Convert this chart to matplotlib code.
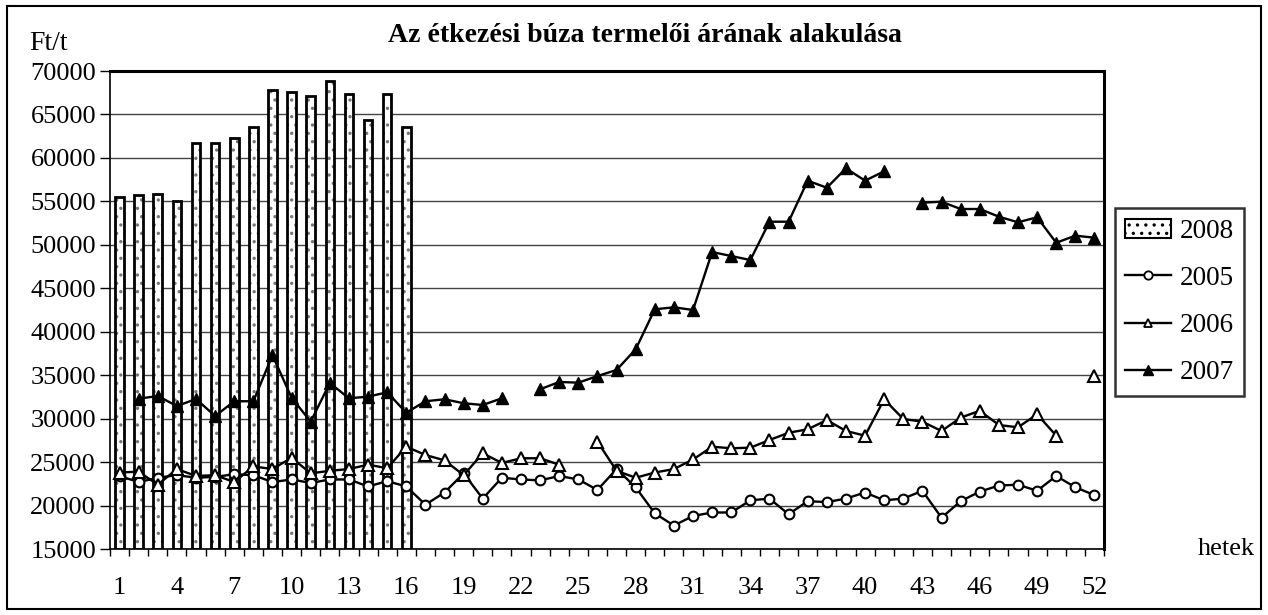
import numpy as np
import matplotlib.pyplot as plt
from matplotlib.patches import Rectangle, Patch
from matplotlib.lines import Line2D

plt.rcParams['font.family'] = ['Liberation Serif', 'DejaVu Serif']
plt.rcParams['hatch.linewidth'] = 1.2

# Adatok (hetek 1-52), nan = hiányzó adat
weeks = np.arange(1, 53)

y2008 = [55500, 55700, 55900, 55000, 61700, 61700, 62300, 63600, 67800, 67600,
         67100, 68900, 67300, 64400, 67300, 63600]

y2005 = [23400, 22700, 23200, 23500, 23200, 23300, 23600, 23500, 22700, 23000,
         22600, 23000, 23000, 22200, 22800, 22200, 20100, 21500, 23700, 20800,
         23200, 23000, 22900, 23400, 23000, 21800, 24200, 22100, 19100, 17700,
         18800, 19200, 19200, 20600, 20800, 19000, 20500, 20400, 20800, 21500,
         20600, 20800, 21700, 18600, 20500, 21600, 22300, 22400, 21700, 23400,
         22100, 21200]

y2006 = [23800, 23900, 22400, 24200, 23400, 23500, 22700, 24500, 24200, 25500,
         23700, 24000, 24200, 24700, 24300, 26770, 25820, 25200, 23500, 26010,
         24900, 25440, 25440, 24700, np.nan, 27350, 24000, 23200, 23800, 24200,
         25300, 26770, 26590, 26660, 27540, 28380, 28770, 29840, 28580, 28040,
         32220, 29960, 29650, 28580, 30110, 30910, 29270, 29000, 30500, 28040,
         np.nan, 34940]

y2007 = [np.nan, 32300, 32600, 31450, 32260, 30300, 32000, 32000, 37300, 32400,
         29650, 34100, 32340, 32530, 33030, 30680, 32000, 32230, 31770, 31570,
         32340, np.nan, 33380, 34220, 34140, 34900, 35600, 37980, 42580, 42810,
         42500, 49170, 48710, 48250, 52660, 52660, 57380, 56570, 58800, 57380,
         58460, np.nan, 54850, 54960, 54120, 54120, 53240, 52590, 53170, 50240,
         51050, 50820]

fig = plt.figure(figsize=(12.68, 6.15), dpi=100)
ax = fig.add_axes([110 / 1268, 1 - 549 / 615, 994 / 1268, 478 / 615])

# 2008 oszlopok
x08 = weeks[:len(y2008)]
ax.bar(x08, np.array(y2008) - 15000, bottom=15000, width=0.45, color='white',
       edgecolor='#777777', hatch='..', linewidth=0, zorder=2)
ax.bar(x08, np.array(y2008) - 15000, bottom=15000, width=0.45, color='none',
       edgecolor='black', linewidth=2, zorder=2)

ax.plot(weeks, y2005, color='black', lw=1.7, marker='o', ms=7,
        mfc='white', mec='black', mew=1.5, zorder=3)
ax.plot(weeks, y2006, color='black', lw=1.7, marker='^', ms=8,
        mfc='white', mec='black', mew=1.5, zorder=3)
ax.plot(weeks, y2007, color='black', lw=1.7, marker='^', ms=8,
        mfc='black', mec='black', mew=1, zorder=3)

ax.set_xlim(0.5, 52.5)
ax.set_ylim(15000, 70000)
ax.set_yticks(range(15000, 70001, 5000))
ax.set_xticks(range(1, 53, 3))
ax.set_xticks(np.arange(0.5, 53, 1), minor=True)
ax.tick_params(axis='x', which='major', length=0, labelsize=19, pad=20)
ax.tick_params(axis='x', which='minor', length=5, direction='out', width=1)
ax.tick_params(axis='y', length=7, width=1, labelsize=19, pad=3)
ax.yaxis.grid(True, color='#444444', lw=1)
ax.set_axisbelow(True)
for s in ax.spines.values():
    s.set_linewidth(2.2)
ax.spines['bottom'].set_linewidth(1.2)
ax.spines['left'].set_linewidth(1.2)

fig.text(645 / 1268, 1 - 36 / 615, 'Az étkezési búza termelői árának alakulása',
         ha='center', va='center', fontsize=20, fontweight='bold')
fig.text(48 / 1268, 1 - 43 / 615, 'Ft/t', ha='center', va='center', fontsize=20)
fig.text(1226 / 1268, 1 - 549 / 615, 'hetek', ha='center', va='center', fontsize=19)

handles = [
    Patch(facecolor='white', edgecolor='black', hatch='..', linewidth=1.5),
    Line2D([], [], color='black', lw=1.7, marker='o', ms=6, mfc='white', mew=1.3),
    Line2D([], [], color='black', lw=1.7, marker='^', ms=6, mfc='white', mew=1.3),
    Line2D([], [], color='black', lw=1.7, marker='^', ms=7, mfc='black'),
]
leg = fig.legend(handles, ['2008', '2005', '2006', '2007'],
                 loc='center', bbox_to_anchor=(1179.5 / 1268, 1 - 302 / 615),
                 fontsize=19.5, frameon=True, fancybox=False, edgecolor='black',
                 handlelength=1.7, handletextpad=0.3, labelspacing=0.82,
                 borderpad=0.4, borderaxespad=0)
leg.get_frame().set_linewidth(1.8)

fig.patches.append(Rectangle((7 / 1268, 6 / 615), 1254 / 1268, 603 / 615,
                             transform=fig.transFigure, fill=False,
                             edgecolor='black', lw=1.5))

fig.savefig('out.png', dpi=100)
